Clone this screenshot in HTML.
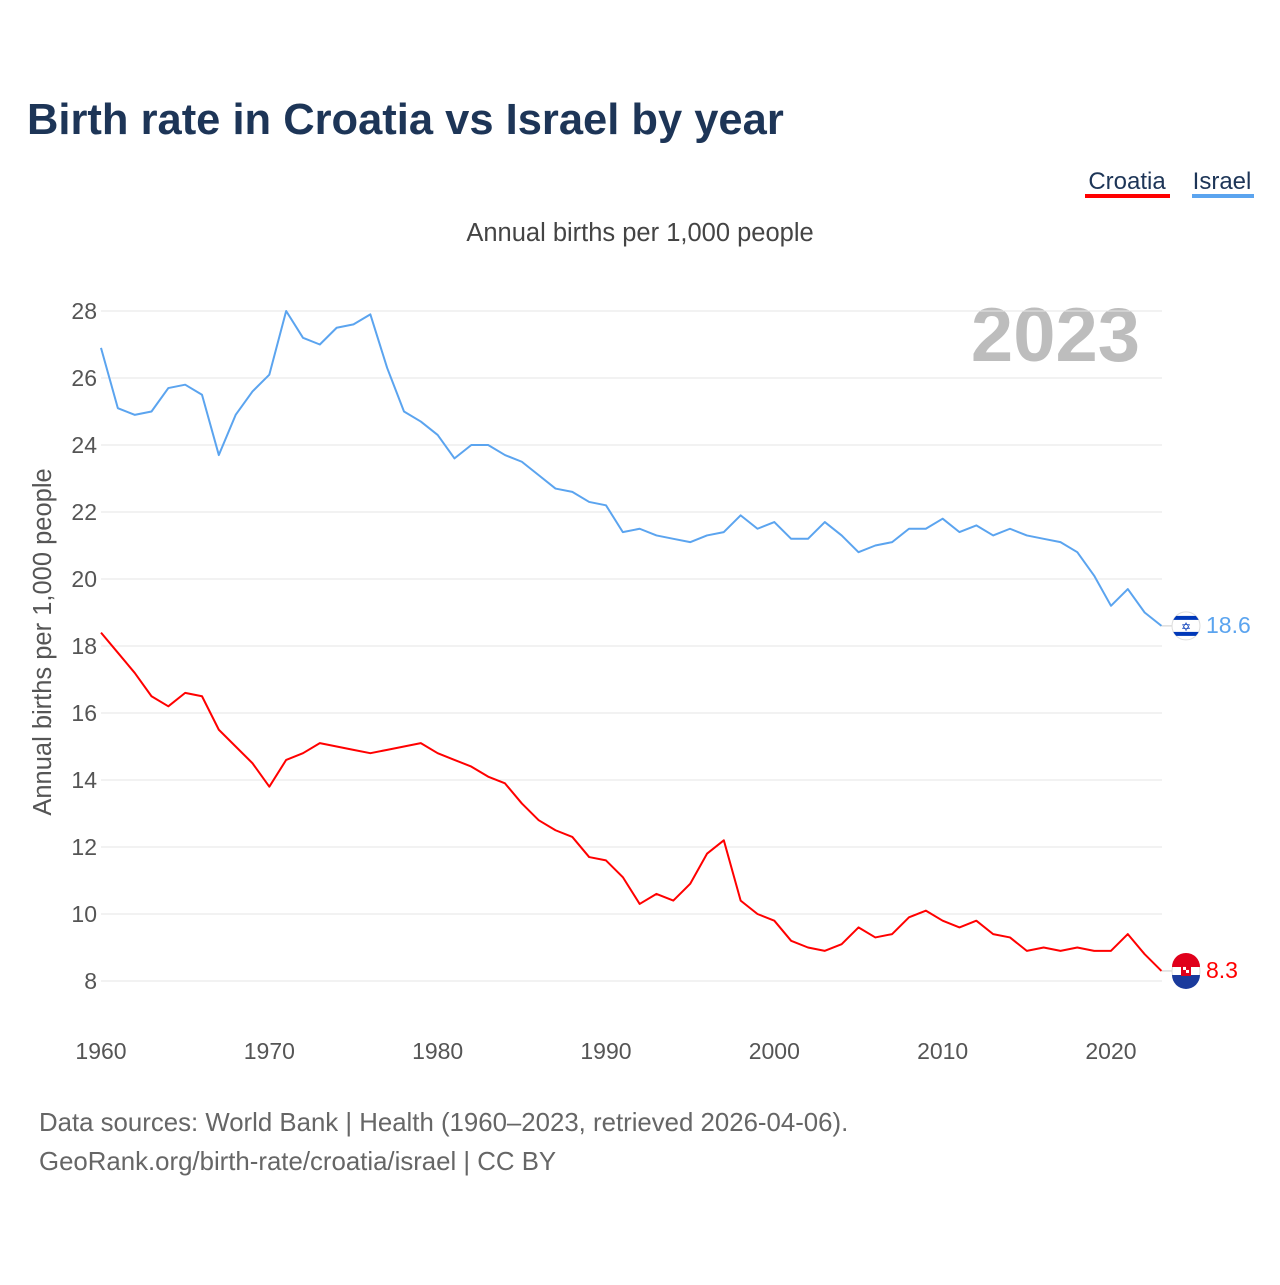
<!DOCTYPE html>
<html><head><meta charset="utf-8">
<style>
body{margin:0;width:1280px;height:1280px;background:#fff;font-family:"Liberation Sans",sans-serif;overflow:hidden}
</style></head>
<body>
<svg id="chart" width="1280" height="1280" xmlns="http://www.w3.org/2000/svg" font-family="Liberation Sans, sans-serif">
<defs><clipPath id="ilc"><circle cx="1186" cy="624" r="14"/></clipPath></defs>
<text x="27" y="134" font-size="43.5" font-weight="bold" fill="#1d3557">Birth rate in Croatia vs Israel by year</text>
<g>
<text x="1127" y="189" font-size="24" fill="#1d3557" text-anchor="middle">Croatia</text>
<rect x="1085" y="194" width="85" height="4" fill="#ff0000"/></g>
<g>
<text x="1222" y="189" font-size="24" fill="#1d3557" text-anchor="middle">Israel</text>
<rect x="1192" y="194" width="62" height="4" fill="#5ba4ef"/></g>
<text x="640" y="241" font-size="25.5" fill="#444" text-anchor="middle">Annual births per 1,000 people</text>
<text x="1140" y="361" font-size="76" font-weight="bold" fill="#bdbdbd" text-anchor="end">2023</text>
<text transform="translate(51,642) rotate(-90)" font-size="25.5" fill="#555" text-anchor="middle">Annual births per 1,000 people</text>
<g id="grid"></g><g id="lines"></g>
<text x="39" y="1131" font-size="25.8" fill="#666">Data sources: World Bank | Health (1960–2023, retrieved 2026-04-06).</text>
<text x="39" y="1170" font-size="25.8" fill="#666">GeoRank.org/birth-rate/croatia/israel | CC BY</text>
</svg>
<script>
const years=[];for(let y=1960;y<=2023;y++)years.push(y);
const israel=[26.9,25.1,24.9,25.0,25.7,25.8,25.5,23.7,24.9,25.6,26.1,28.0,27.2,27.0,27.5,27.6,27.9,26.3,25.0,24.7,24.3,23.6,24.0,24.0,23.7,23.5,23.1,22.7,22.6,22.3,22.2,21.4,21.5,21.3,21.2,21.1,21.3,21.4,21.9,21.5,21.7,21.2,21.2,21.7,21.3,20.8,21.0,21.1,21.5,21.5,21.8,21.4,21.6,21.3,21.5,21.3,21.2,21.1,20.8,20.1,19.2,19.7,19.0,18.6];
const croatia=[18.4,17.8,17.2,16.5,16.2,16.6,16.5,15.5,15.0,14.5,13.8,14.6,14.8,15.1,15.0,14.9,14.8,14.9,15.0,15.1,14.8,14.6,14.4,14.1,13.9,13.3,12.8,12.5,12.3,11.7,11.6,11.1,10.3,10.6,10.4,10.9,11.8,12.2,10.4,10.0,9.8,9.2,9.0,8.9,9.1,9.6,9.3,9.4,9.9,10.1,9.8,9.6,9.8,9.4,9.3,8.9,9.0,8.9,9.0,8.9,8.9,9.4,8.8,8.3];
const yTicks=[8,10,12,14,16,18,20,22,24,26,28];
const xTicks=[1960,1970,1980,1990,2000,2010,2020];
const NS="http://www.w3.org/2000/svg";
const X=y=>101+(y-1960)*16.833, Y=v=>981-(v-8)*33.5;
function el(t,a,p){const e=document.createElementNS(NS,t);for(const k in a)e.setAttribute(k,a[k]);p.appendChild(e);return e;}
const g=document.getElementById('grid'), L=document.getElementById('lines');
yTicks.forEach(v=>{
 const l=el('line',{x1:101,x2:1162,y1:Y(v),y2:Y(v),stroke:'#e6e6e6','stroke-width':1},g);
 
 
 const t=el('text',{x:97,y:Y(v)+8,'font-size':23,fill:'#555','text-anchor':'end'},g);t.textContent=v;
 
 
});
xTicks.forEach(v=>{
 const t=el('text',{x:X(v),y:1059,'font-size':23,fill:'#555','text-anchor':'middle'},g);t.textContent=v;
 
 
});
function line(data,color,name){
 const p=el('polyline',{points:data.map((v,i)=>X(years[i])+','+Y(v)).join(' '),fill:'none',stroke:color,'stroke-width':2,'stroke-linejoin':'round'},L);
 
 
}
line(israel,'#5ba4ef','israel-line');
line(croatia,'#ff0000','croatia-line');
function endLabel(data,color,name,flag){
 const v=data[data.length-1],cx=1186,cy=Y(v);
 el('line',{x1:X(2023),x2:cx-12,y1:cy,y2:cy,stroke:'#ccc'},L);
 const gg=el('g',{},L);
 
 
 el('circle',{cx:cx,cy:cy,r:14,fill:'#fff',stroke:'#ddd'},gg);
 if(flag==='il'){
  document.querySelector('#ilc circle').setAttribute('cy',cy);
  const f=el('g',{'clip-path':'url(#ilc)'},gg);
  el('rect',{x:cx-14,y:cy-10,width:28,height:4,fill:'#0038b8'},f);
  el('rect',{x:cx-14,y:cy+6,width:28,height:4,fill:'#0038b8'},f);
  const s=el('text',{x:cx,y:cy+5,'font-size':12,fill:'#0038b8','text-anchor':'middle'},f);s.textContent='✡';
 }else{
  el('path',{d:`M${cx-14},${cy-4} A14,14 0 0 1 ${cx+14},${cy-4} Z`,fill:'#e0001b'},gg);
  el('path',{d:`M${cx-14},${cy+4} A14,14 0 0 0 ${cx+14},${cy+4} Z`,fill:'#1a3a9c'},gg);
  el('rect',{x:cx-5,y:cy-6,width:10,height:11,fill:'#e0001b'},gg);
  el('rect',{x:cx-3,y:cy-4,width:3,height:3,fill:'#fff'},gg);
  el('rect',{x:cx,y:cy-1,width:3,height:3,fill:'#fff'},gg);
 }
 const t=el('text',{x:1206,y:cy+7,'font-size':23,fill:color},L);t.textContent=v;
 
 
}
endLabel(israel,'#5ba4ef','israel','il');
endLabel(croatia,'#ff0000','croatia','hr');
</script>
</body></html>
